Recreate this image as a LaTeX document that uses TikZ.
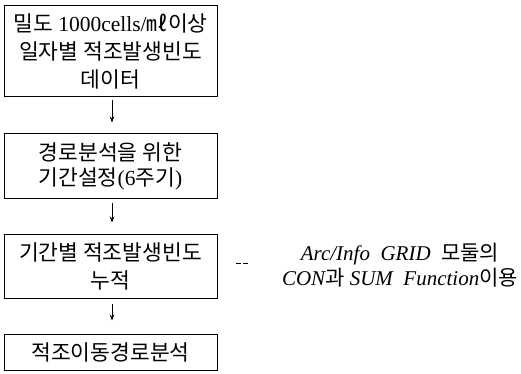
\documentclass[tikz,border=0pt]{standalone}
\usepackage{fontspec}
\setmainfont{Liberation Serif}
\newfontfamily\kr{Noto Sans CJK KR}
\usetikzlibrary{arrows.meta}
\begin{document}
\begin{tikzpicture}[x=1pt,y=-1pt,
  flowbox/.style={draw,line width=1pt,minimum width=213pt,inner sep=0pt,align=center,
    font=\fontsize{21.5}{28}\selectfont},
  arr/.style={line width=0.8pt,-{Stealth[length=6pt,width=4.5pt]}},
  note/.style={align=center,font=\fontsize{21}{25}\selectfont\itshape}]
\useasboundingbox (0,0) rectangle (521,374);
\node[flowbox,minimum height=91pt] (b1) at (110.5,51.5)
  {{\kr 밀도} 1000cells/{\kr ㎖이상}\\{\kr 일자별 적조발생빈도}\\{\kr 데이터}};
\node[flowbox,minimum height=64pt,font=\fontsize{21.5}{25}\selectfont] (b2) at (110.5,166)
  {{\kr 경로분석을 위한}\\{\kr 기간설정}(6{\kr 주기})};
\node[flowbox,minimum height=64pt] (b3) at (110.5,266)
  {{\kr 기간별 적조발생빈도}\\{\kr 누적}};
\node[flowbox,minimum height=36pt] (b4) at (110.5,352)
  {{\kr 적조이동경로분석}};
\node[note] (n) at (400,265)
  {Arc/Info\ \ GRID\ \ {\kr 모둘의}\\CON{\kr 과}\ SUM\ \ Function{\kr 이용}};
\draw[arr] ([xshift=1.5pt,yshift=-3pt]b1.south) -- ([xshift=1.5pt,yshift=11pt]b2.north);
\draw[arr] ([xshift=1.5pt,yshift=-4pt]b2.south) -- ([xshift=1.5pt,yshift=11pt]b3.north);
\draw[arr] ([xshift=1.5pt,yshift=-5pt]b3.south) -- ([xshift=1.5pt,yshift=13pt]b4.north);
\coordinate (d1) at ([xshift=18pt,yshift=3pt]b3.east);
\coordinate (d2) at ([xshift=30pt,yshift=3pt]b3.east);
\draw[line width=1pt,dash pattern=on 5pt off 2.5pt] (d1) -- (d2);
\end{tikzpicture}
\end{document}
